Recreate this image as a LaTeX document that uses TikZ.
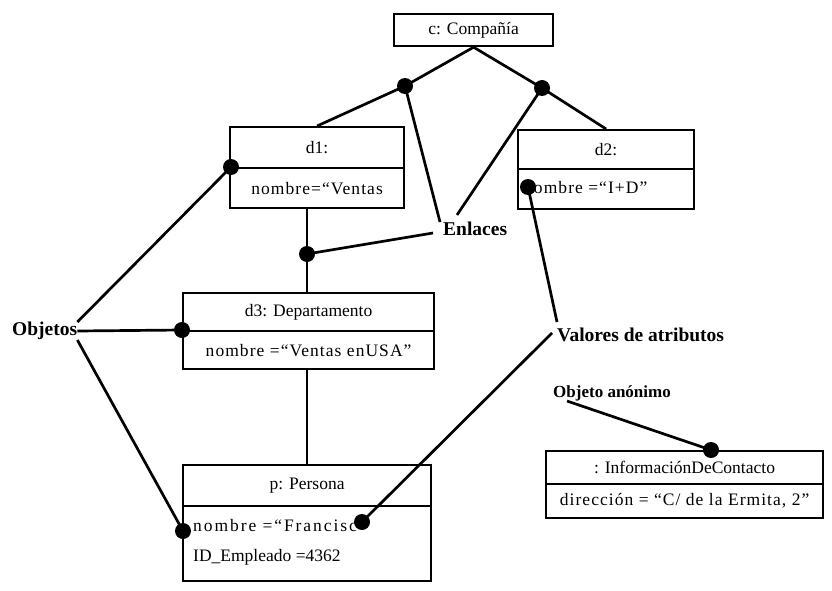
\documentclass[tikz,border=0pt]{standalone}
\usepackage{fontspec}
\setmainfont{Liberation Serif}
\newcommand{\boxfs}{\fontsize{17.5}{20}\selectfont}
\newcommand{\wide}{\addfontfeatures{LetterSpace=6}}
\newcommand{\wider}{\addfontfeatures{LetterSpace=11}}
\newcommand{\lblfs}{\fontsize{19.5}{22}\selectfont\bfseries}
\newcommand{\smlblfs}{\fontsize{17}{20}\selectfont\bfseries}
\tikzset{
  comp/.style={draw, line width=2.2pt, inner sep=0pt, anchor=north west, font=\boxfs},
  conn/.style={line width=2.7pt},
  dotn/.style={circle, fill=black, inner sep=0pt, minimum size=16pt},
  lbl/.style={font=\lblfs, inner sep=0pt, anchor=west},
  txt/.style={font=\boxfs, inner sep=0pt, anchor=west},
}
\begin{document}
\begin{tikzpicture}[x=1pt,y=-1pt]
\useasboundingbox (0,0) rectangle (832,591);
% boxes
\node[comp, minimum width=159pt, minimum height=32pt] (c) at (393,13) {c: Compañía};
\node[comp, minimum width=174pt, minimum height=41pt] (d1h) at (229,126) {d1:};
\node[comp, minimum width=174pt, minimum height=40pt] (d1a) at (229,167) {\wide nombre=“Ventas};
\node[comp, minimum width=176pt, minimum height=39pt] (d2h) at (517,129) {d2:};
\node[comp, minimum width=176pt, minimum height=40pt] (d2a) at (517,168) {};
\node[txt] (d2t) at (524,188) {\wide nombre =“I+D”};
\node[comp, minimum width=251pt, minimum height=38pt] (d3h) at (182,292) {d3: Departamento};
\node[comp, minimum width=251pt, minimum height=38pt] (d3a) at (182,330) {\wide nombre =“Ventas enUSA”};
\node[comp, minimum width=248pt, minimum height=41pt] (ph) at (182,464) {p: Persona};
\node[comp, minimum width=248pt, minimum height=75pt] (pa) at (182,505) {};
\node[txt] (pt1) at (193,526) {\wider nombre =“Francisc};
\node[txt] (pt2) at (193,557) {ID\_Empleado =4362};
\node[comp, minimum width=277pt, minimum height=33pt] (ih) at (545,450) {: InformaciónDeContacto};
\node[comp, minimum width=277pt, minimum height=34pt] (ia) at (545,483) {\wide dirección = “C/ de la Ermita, 2”};
% labels
\node[lbl] (enl) at (443,229) {Enlaces};
\node[lbl] (obj) at (12,331) {Objetos};
\node[lbl] (val) at (557,335) {Valores de atributos};
\node[lbl, font=\smlblfs] (anon) at (553,393) {Objeto anónimo};
% dots
\node[dotn] (dotL) at (405,86) {};
\node[dotn] (dotR) at (542,88) {};
\node[dotn] (dotM) at (307,254) {};
\node[dotn] (dd1) at (231,167) {};
\node[dotn] (dd3) at (182,330) {};
\node[dotn] (dp) at (183,531) {};
\node[dotn] (dpr) at (362,522) {};
\node[dotn] (dd2) at (528,187) {};
\node[dotn] (di) at (711,450) {};
% free ends
\coordinate (e1) at (440,222);
\coordinate (e2) at (457,215);
\coordinate (e3) at (433,233);
\coordinate (v1) at (557,322);
\coordinate (v2) at (552,333);
\coordinate (a1) at (567,401);
% connectors
\draw[conn] (c.south) -- (dotL.center) -- (d1h.north);
\draw[conn] (c.south) -- (dotR.center) -- (d2h.north);
\draw[conn] (dotL.center) -- (e1);
\draw[conn] (dotR.center) -- (e2);
\draw[conn] (d1a.south -| dotM) -- (dotM.center) -- (d3h.north -| dotM);
\draw[conn] (dotM.center) -- (e3);
\draw[conn] (d3a.south -| dotM) -- (ph.north -| dotM);
\draw[conn] (obj.north east) -- (dd1.center);
\draw[conn] (obj.east) -- (dd3.center);
\draw[conn] (obj.south east) -- (dp.center);
\draw[conn] (dd2.center) -- (v1);
\draw[conn] (dpr.center) -- (v2);
\draw[conn] (a1) -- (di.center);
\end{tikzpicture}
\end{document}
